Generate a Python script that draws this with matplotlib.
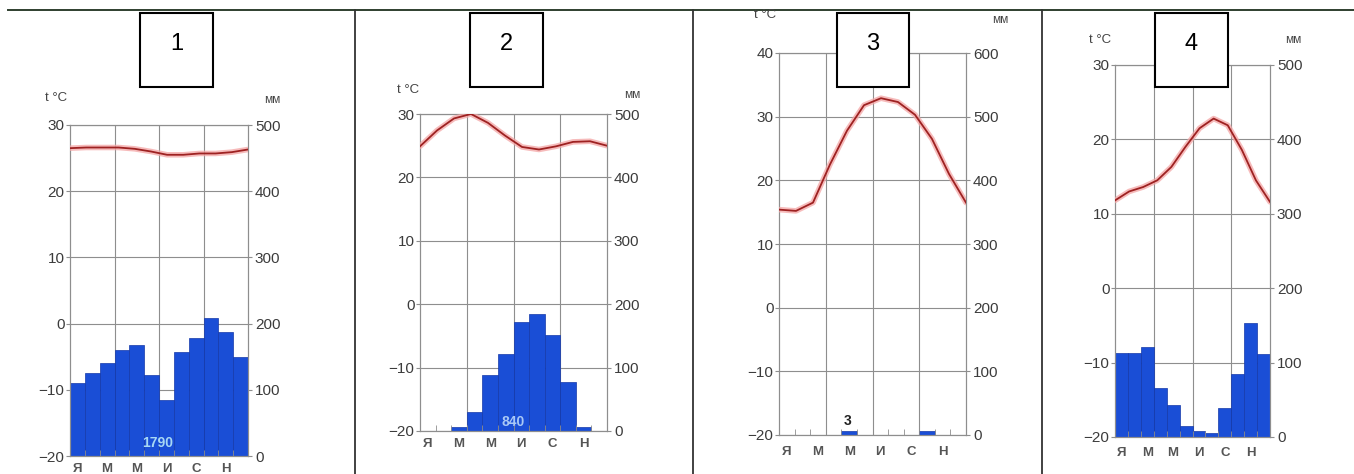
import matplotlib
matplotlib.use('Agg')
import matplotlib.pyplot as plt
import numpy as np
from matplotlib.patches import Rectangle
from matplotlib.lines import Line2D

plt.rcParams['font.family'] = ['Liberation Sans', 'DejaVu Sans']

W, H = 1354, 474

month_labels = ['Я', 'М', 'М', 'И', 'С', 'Н']

# Chart 1
temp1 = [26.5, 26.6, 26.6, 26.6, 26.4, 26.0, 25.5, 25.5, 25.7, 25.7, 25.9, 26.3]
prec1 = [110, 126, 141, 160, 168, 122, 85, 157, 178, 208, 187, 150]
total1 = '1790'
# Chart 2
temp2 = [24.9, 27.4, 29.3, 30.0, 28.6, 26.6, 24.8, 24.4, 24.9, 25.6, 25.7, 25.0]
prec2 = [0, 0, 6, 30, 88, 122, 172, 185, 152, 78, 7, 0]
total2 = '840'
# Chart 3
temp3 = [15.4, 15.2, 16.5, 22.5, 27.8, 31.8, 32.9, 32.3, 30.3, 26.5, 21.0, 16.5]
prec3 = [0, 0, 0, 0, 7, 0, 0, 0, 0, 6, 0, 0]
total3 = '3'
# Chart 4
temp4 = [11.8, 13.0, 13.6, 14.5, 16.3, 19.0, 21.5, 22.8, 21.9, 18.6, 14.5, 11.6]
prec4 = [113, 113, 121, 66, 43, 15, 8, 5, 39, 85, 153, 112]
total4 = ''

fig = plt.figure(figsize=(W / 100, H / 100), dpi=100)
fig.patch.set_facecolor('white')

GRID = '#8e8e8e'
BAR = '#1a4ed6'
BAR_EDGE = '#1438a8'
TICK = '#3c3c3c'


def px_rect(l, t, r, b):
    return [l / W, 1 - b / H, (r - l) / W, (b - t) / H]


def draw_chart(rect, temps, precs, tlo, thi, total, total_xy, total_color,
               month_pad):
    ax = fig.add_axes(rect)
    ax2 = ax.twinx()
    ax.set_zorder(2)
    ax2.set_zorder(1)
    ax.patch.set_visible(False)
    ax2.patch.set_facecolor('white')

    n = len(temps)
    ax.set_xlim(0, n)
    ax.set_ylim(tlo, thi)
    ax2.set_ylim(0, (thi - tlo) * 10)

    ax2.set_yticks(np.arange(0, (thi - tlo) * 10 + 1, 100))
    ax2.yaxis.grid(True, color=GRID, lw=0.8)
    ax2.set_axisbelow(True)
    for v in (3, 6, 9):
        ax2.axvline(v, color=GRID, lw=0.8, zorder=0.5)

    ax2.bar(np.arange(n) + 0.5, precs, width=1.0, color=BAR,
            edgecolor=BAR_EDGE, linewidth=0.5, zorder=2)

    xs = np.linspace(0, n, n)
    ax.plot(xs, temps, color='#f4a5a5', lw=4.0, alpha=0.75,
            solid_capstyle='round', zorder=3)
    ax.plot(xs, temps, color='#9e2222', lw=1.3, zorder=4)

    ax.set_yticks(np.arange(tlo, thi + 1, 10))
    ax.tick_params(axis='y', labelsize=11, colors=TICK, length=3, pad=1,
                   color=GRID)
    ax2.tick_params(axis='y', labelsize=11, colors=TICK, length=3, pad=2,
                    color=GRID)

    ax.set_xticks(np.arange(0, n, 2) + 0.5)
    ax.set_xticklabels(month_labels)
    ax.set_xticks(np.arange(1, n), minor=True)
    ax.tick_params(axis='x', which='major', length=0, pad=month_pad,
                   labelsize=9.5, colors='#555555')
    for lab in ax.get_xticklabels():
        lab.set_fontweight('bold')
    ax.tick_params(axis='x', which='minor', direction='in', length=4,
                   color=GRID)

    for a in (ax, ax2):
        for s in a.spines.values():
            s.set_color(GRID)
            s.set_linewidth(0.8)

    if total:
        ax2.text(total_xy[0], total_xy[1], total, color=total_color,
                 fontsize=10, fontweight='bold', ha='center', va='center',
                 zorder=5)
    return ax


draw_chart(px_rect(70, 125, 248, 456), temp1, prec1, -20, 30, total1,
           (5.9, 20), '#a8d8f4', 5)
draw_chart(px_rect(420, 114, 607, 431), temp2, prec2, -20, 30, total2,
           (6.0, 14), '#a9c8f5', 5)
draw_chart(px_rect(779, 53, 966, 435), temp3, prec3, -20, 40, total3,
           (4.4, 22), '#222222', 8)
draw_chart(px_rect(1115, 65, 1270, 437), temp4, prec4, -20, 30, total4,
           (0, 0), '#222222', 7)

units = [((56, 98), (272, 100)), ((408, 90), (632, 95)),
         ((765, 15), (1000, 20)), ((1100, 40), (1293, 40))]
for (tx, ty), (mx, my) in units:
    fig.text(tx / W, 1 - ty / H, 't °C', fontsize=9.5, color='#444444',
             ha='center', va='center')
    fig.text(mx / W, 1 - my / H, 'мм', fontsize=8.5, color='#444444',
             ha='center', va='center')

fig.add_artist(Line2D([8 / W, 1], [1 - 9.5 / H, 1 - 9.5 / H],
                      transform=fig.transFigure, color='#2f3f2f', lw=1.4))
for vx in (355, 693, 1042):
    fig.add_artist(Line2D([vx / W, vx / W], [0, 1 - 9.5 / H],
                          transform=fig.transFigure, color='#333333',
                          lw=1.3))

boxes = [(140, 213, '1'), (470, 543, '2'), (837, 909, '3'),
         (1155, 1228, '4')]
for l, r, label in boxes:
    rect = Rectangle((l / W, 1 - 87 / H), (r - l) / W, 74 / H,
                     transform=fig.transFigure, facecolor='white',
                     edgecolor='black', lw=1.5, zorder=10)
    fig.add_artist(rect)
    fig.text((l + r) / 2 / W, 1 - 44 / H, label, fontsize=17,
             ha='center', va='center', color='black', zorder=11)

fig.savefig('out.png', dpi=100)
